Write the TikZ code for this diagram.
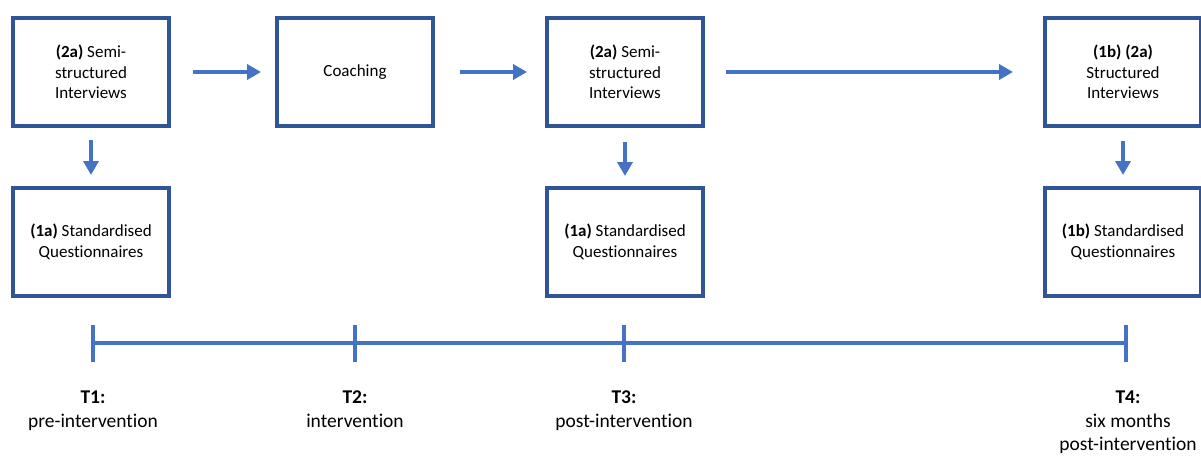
\documentclass[tikz,border=0pt]{standalone}
\usepackage{fontspec}
\setmainfont{Carlito}[Ligatures=NoCommon]
\usetikzlibrary{positioning}
\usetikzlibrary{arrows.meta}
\definecolor{boxblue}{HTML}{2F5597}
\definecolor{arrowblue}{HTML}{4472C4}

\begin{document}
\begin{tikzpicture}[x=1pt,y=-1pt,
	stagebox/.style={draw=boxblue, line width=4pt, minimum width=156pt, minimum height=108pt, align=center, inner sep=0pt, font=\fontsize{17}{20.7}\selectfont},
	flow/.style={draw=arrowblue, line width=4pt, -{Triangle[length=14pt,width=15pt]}},
	tline/.style={draw=arrowblue, line width=4pt},
	timelabel/.style={anchor=north, align=center, inner sep=0pt, font=\fontsize{19.5}{23.3}\selectfont}]
	\useasboundingbox (0,0) rectangle (1201,455);
	
	\node[stagebox] at (91,72) (semiA) {\textbf{(2a)} Semi-\\structured\\Interviews};
	\node[stagebox] at (91,242) (questA) {\textbf{(1a)} Standardised\\Questionnaires};
	\node[stagebox] at (355,72) (coach) {Coaching};
	\node[stagebox] at (625,72) (semiB) {\textbf{(2a)} Semi-\\structured\\Interviews};
	\node[stagebox] at (625,242) (questB) {\textbf{(1a)} Standardised\\Questionnaires};
	\node[stagebox] at (1123,72) (struct) {\textbf{(1b) (2a)}\\Structured\\Interviews};
	\node[stagebox] at (1123,242) (questC) {\textbf{(1b)} Standardised\\Questionnaires};
	
	\draw[flow, shorten <=22pt, shorten >=14pt] (semiA) -- (coach);
	\draw[flow, shorten <=25pt, shorten >=18pt] (coach) -- (semiB);
	\draw[flow, shorten <=21pt, shorten >=30pt] (semiB) -- (struct);
	\draw[flow, shorten <=12pt, shorten >=11pt] (semiA) -- (questA);
	\draw[flow, shorten <=14pt, shorten >=10pt] (semiB) -- (questB);
	\draw[flow, shorten <=13pt, shorten >=11pt] (struct) -- (questC);
	
	\coordinate (t1) at (93,343);
	\coordinate (t2) at (355,343);
	\coordinate (t3) at (624,343);
	\coordinate (t4) at (1126,343);
	\draw[tline] (t1) -- (t4);
	\foreach \t in {t1,t2,t3,t4}
		\draw[tline] (\t) ++(0,-18) -- ++(0,37);
	
	\node[timelabel, below=48pt of t1] (lab1) {\textbf{T1:}\\pre-intervention};
	\node[timelabel, below=48pt of t2] (lab2) {\textbf{T2:}\\intervention};
	\node[timelabel, below=48pt of t3] (lab3) {\textbf{T3:}\\post-intervention};
	\node[timelabel, below=48pt of t4, xshift=2pt] (lab4) {\textbf{T4:}\\six months\\post-intervention};
\end{tikzpicture}
\end{document}
